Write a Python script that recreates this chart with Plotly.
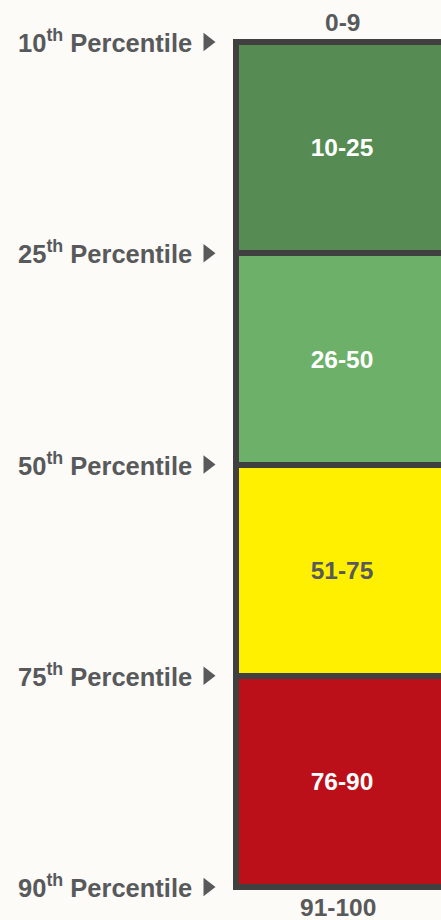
import plotly.graph_objects as go

# ---- data ----
segment_labels = ["10-25", "26-50", "51-75", "76-90"]
segment_colors = ["#568c53", "#6cb06a", "#fff000", "#bb0f19"]
segment_text_colors = ["#ffffff", "#ffffff", "#58595b", "#ffffff"]
percentile_labels = [
    "10<sup>th</sup> Percentile",
    "25<sup>th</sup> Percentile",
    "50<sup>th</sup> Percentile",
    "75<sup>th</sup> Percentile",
    "90<sup>th</sup> Percentile",
]
top_label = "0-9"
bottom_label = "91-100"

W, H = 441, 920
TOP_PX, STEP_PX = 42.0, 211.25
BG = "#fcfbf8"
GRAY = "#58595b"
FONT = "Liberation Sans, Arial, sans-serif"


def py(px):
    """pixel row -> data y (segment index units)"""
    return (px - TOP_PX) / STEP_PX


n = len(segment_labels)
bar_left, bar_right = 236, 448

fig = go.Figure()
fig.add_trace(go.Bar(
    x=[(bar_left + bar_right) / 2] * n,
    y=[1] * n,
    base=list(range(n)),
    width=[bar_right - bar_left] * n,
    marker=dict(color=segment_colors, line=dict(color="#404040", width=6)),
    text=segment_labels,
    textposition="inside",
    insidetextanchor="middle",
    textangle=0,
    textfont=dict(family=FONT, size=24.5, color=segment_text_colors, weight=700),
    hoverinfo="skip",
    showlegend=False,
))

# boundary markers (triangles)
fig.add_trace(go.Scatter(
    x=[207.5] * len(percentile_labels),
    y=list(range(len(percentile_labels))),
    mode="markers",
    marker=dict(symbol="triangle-right", size=16, color=GRAY, line=dict(width=0)),
    hoverinfo="skip",
    showlegend=False,
))

annotations = []
for i, lab in enumerate(percentile_labels):
    annotations.append(dict(
        x=194, y=i, xref="x", yref="y", text=lab, showarrow=False,
        xanchor="right", yanchor="middle", yshift=1,
        font=dict(family=FONT, size=25.5, color=GRAY, weight=700),
    ))
annotations.append(dict(
    x=342, y=py(22.5), xref="x", yref="y", text=top_label, showarrow=False,
    xanchor="center", yanchor="middle",
    font=dict(family=FONT, size=24.5, color=GRAY, weight=700),
))
annotations.append(dict(
    x=338, y=py(907.5), xref="x", yref="y", text=bottom_label, showarrow=False,
    xanchor="center", yanchor="middle",
    font=dict(family=FONT, size=24.5, color=GRAY, weight=700),
))

fig.update_layout(
    width=W, height=H,
    margin=dict(l=0, r=0, t=0, b=0),
    paper_bgcolor=BG, plot_bgcolor=BG,
    xaxis=dict(range=[0, W], visible=False, fixedrange=True),
    yaxis=dict(range=[py(H), py(0)], visible=False, fixedrange=True),
    annotations=annotations,
    bargap=0,
)

fig.write_html("out.html", config={"displayModeBar": False})
